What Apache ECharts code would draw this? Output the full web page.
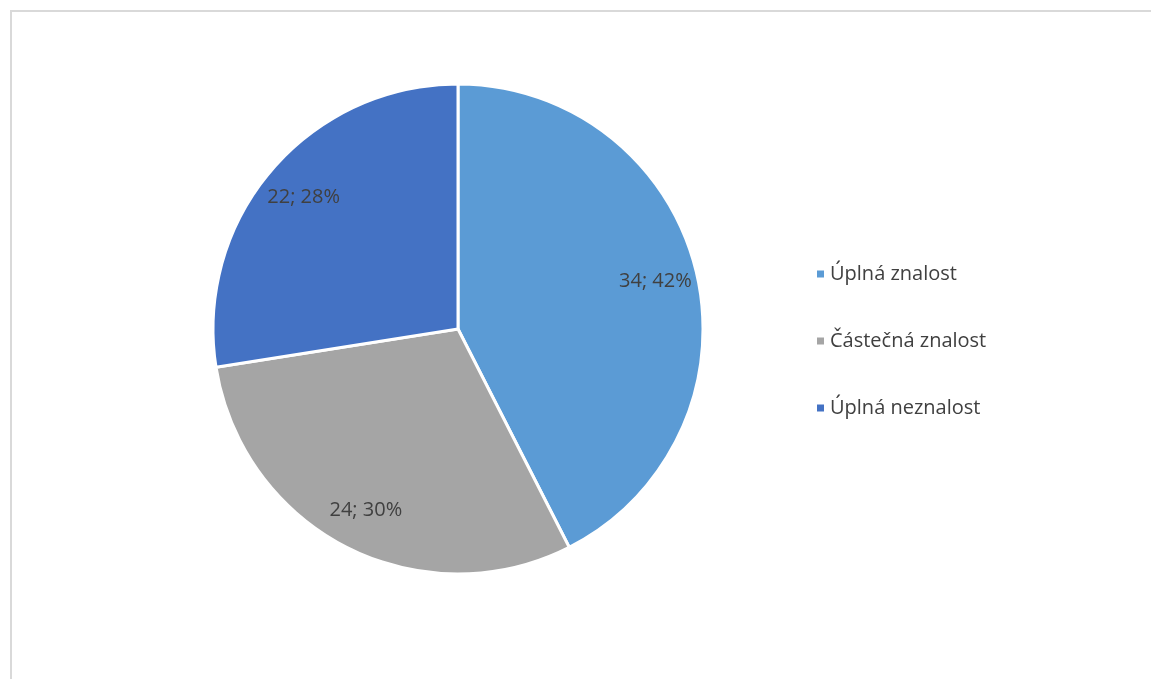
<!DOCTYPE html>
<html>
<head>
<meta charset="utf-8">
<script src="https://cdn.jsdelivr.net/npm/echarts@6/dist/echarts.min.js"></script>
<style>
  html, body { margin: 0; padding: 0; background: #fff; overflow: hidden; }
  #frame { position: absolute; left: 10px; top: 10px; width: 1141px; height: 669px; border-top: 2px solid #d9d9d9; border-left: 2px solid #d9d9d9; box-sizing: border-box; }
  #chart { position: absolute; left: 0; top: 0; width: 1151px; height: 679px; }
</style>
</head>
<body>
<div id="frame"></div>
<div id="chart"></div>
<script>
// data
var categories = ['Úplná znalost', 'Částečná znalost', 'Úplná neznalost'];
var counts = [34, 24, 22];
var percents = [42, 30, 28];
var colors = ['#5B9BD5', '#A5A5A5', '#4472C4'];

var pieData = categories.map(function (name, i) {
  return { value: counts[i], name: name, itemStyle: { color: colors[i] } };
});

var myChart = echarts.init(document.getElementById('chart'));
var option = {
  animation: false,
  legend: {
    orient: 'vertical',
    left: 810,
    top: 259,
    itemWidth: 9,
    itemHeight: 9,
    itemGap: 47,
    icon: 'rect',
    textStyle: { fontFamily: 'Open Sans', fontSize: 20, color: '#404040' },
    data: categories
  },
  series: [
    {
      // the slices
      name: 'znalost',
      type: 'pie',
      center: [458, 329],
      radius: [0, 245],
      startAngle: 90,
      clockwise: true,
      silent: true,
      itemStyle: { borderColor: '#fff', borderWidth: 3 },
      label: { show: false },
      labelLine: { show: false },
      data: pieData
    },
    {
      // invisible ring only used to place the labels further out
      name: 'labels',
      type: 'pie',
      center: [458, 329],
      radius: [155, 245],
      startAngle: 90,
      clockwise: true,
      silent: true,
      itemStyle: { color: 'rgba(0,0,0,0)' },
      label: {
        show: true,
        position: 'inside',
        fontFamily: 'Open Sans',
        fontSize: 20,
        color: '#404040',
        formatter: function (p) {
          return counts[p.dataIndex] + '; ' + percents[p.dataIndex] + '%';
        }
      },
      labelLine: { show: false },
      data: categories.map(function (name, i) { return { value: counts[i], name: name + ' ' }; })
    }
  ]
};
myChart.setOption(option);
</script>
</body>
</html>
